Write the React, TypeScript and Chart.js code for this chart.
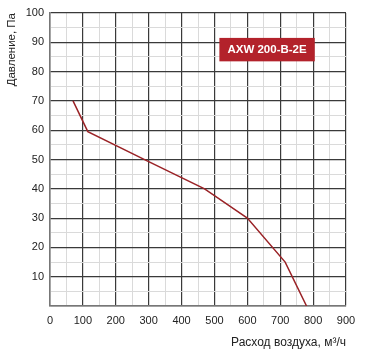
import React, { useEffect, useRef } from "react";
import { Chart, registerables } from "chart.js";

Chart.register(...registerables);

const airflow = [70, 115, 300, 470, 600, 715, 780];
const pressure = [70, 59.5, 49.3, 40, 30, 15, 0];
const modelLabel = "AXW 200-B-2E";
const xTitle = "Расход воздуха, м³/ч";
const yTitle = "Давление, Па";

const FONT = "'Liberation Sans', Arial, Helvetica, sans-serif";

const labelBox = {
  id: "labelBox",
  afterDraw(chart: any) {
    const { ctx, scales } = chart;
    const x0 = scales.x.getPixelForValue(515);
    const x1 = scales.x.getPixelForValue(805);
    const y0 = scales.y.getPixelForValue(91.5);
    const y1 = scales.y.getPixelForValue(83.5);
    ctx.save();
    ctx.fillStyle = "#b3222b";
    ctx.fillRect(x0, y0, x1 - x0, y1 - y0);
    ctx.fillStyle = "#ffffff";
    ctx.font = `bold 11.5px ${FONT}`;
    ctx.textAlign = "center";
    ctx.textBaseline = "middle";
    ctx.fillText(modelLabel, (x0 + x1) / 2, (y0 + y1) / 2 + 0.5);
    ctx.restore();
  },
};

export default function App() {
  const ref = useRef<HTMLCanvasElement>(null);
  useEffect(() => {
    document.body.style.margin = "0";
    const chart = new Chart(ref.current!, {
      type: "scatter",
      data: {
        datasets: [
          {
            data: airflow.map((x, i) => ({ x, y: pressure[i] })),
            showLine: true,
            borderColor: "#9a2226",
            borderWidth: 1.5,
            pointRadius: 0,
            tension: 0,
          },
        ],
      },
      options: {
        animation: false,
        responsive: false,
        layout: { padding: { top: 13, right: 21, left: 0, bottom: 0 } },
        plugins: { legend: { display: false }, tooltip: { enabled: false } },
        scales: {
          x: {
            type: "linear",
            min: 0,
            max: 900,
            afterFit: (s: any) => {
              s.height = 44;
            },
            ticks: {
              stepSize: 50,
              autoSkip: false,
              maxRotation: 0,
              padding: 8,
              color: "#222",
              font: { family: FONT, size: 11 },
              callback: (v: any) => (v % 100 === 0 ? String(v) : ""),
            },
            grid: {
              drawTicks: false,
              color: (c: any) => (c.tick && c.tick.value % 100 === 0 ? "#3a3a3a" : "#dadada"),
              lineWidth: (c: any) => (c.tick && c.tick.value % 100 === 0 ? 1.2 : 1),
            },
            border: { color: "#777", width: 1.5 },
            title: {
              display: true,
              text: xTitle,
              align: "end",
              color: "#222",
              font: { family: FONT, size: 12 },
              padding: { top: 5, bottom: 0 },
            },
          },
          y: {
            type: "linear",
            min: 0,
            max: 100,
            afterFit: (s: any) => {
              s.width = 50;
            },
            ticks: {
              stepSize: 5,
              autoSkip: false,
              padding: 6,
              color: "#222",
              font: { family: FONT, size: 11 },
              callback: (v: any) => (v % 10 === 0 && v !== 0 ? String(v) : ""),
            },
            grid: {
              drawTicks: false,
              color: (c: any) => (c.tick && c.tick.value % 10 === 0 ? "#3a3a3a" : "#dadada"),
              lineWidth: (c: any) => (c.tick && c.tick.value % 10 === 0 ? 1.2 : 1),
            },
            border: { color: "#777", width: 1.5 },
            title: {
              display: true,
              text: yTitle,
              align: "end",
              color: "#222",
              font: { family: FONT, size: 11.5 },
              padding: { top: 5, bottom: 0 },
            },
          },
        },
      },
      plugins: [labelBox],
    });
    return () => chart.destroy();
  }, []);
  return (
    <div style={{ width: 367, height: 350 }}>
      <canvas ref={ref} width={367} height={350} />
    </div>
  );
}
